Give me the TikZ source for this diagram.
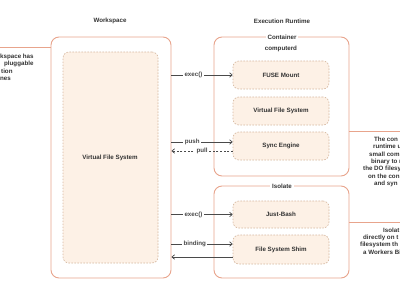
\documentclass[tikz,border=0pt]{standalone}
\usepackage{fontspec}
\setmainfont{Liberation Sans}
\usetikzlibrary{arrows.meta}
\definecolor{salmon}{HTML}{E8A48C}
\definecolor{cream}{HTML}{FDF1E6}
\definecolor{tan}{HTML}{D6B8A0}
\definecolor{conn}{HTML}{4A4A4A}
\definecolor{txt}{HTML}{333333}
\tikzset{
  outerbox/.style={draw=salmon, line width=0.9pt, fill=white, rounded corners=8pt, inner sep=0pt},
  innerbox/.style={draw=tan, dashed, dash pattern=on 1.6pt off 1.4pt, line width=0.6pt, fill=cream, rounded corners=6pt, inner sep=0pt, font=\fontsize{6.2}{7.4}\selectfont\bfseries, text=txt},
  title/.style={font=\fontsize{6.2}{7.4}\selectfont\bfseries, text=txt, inner sep=1.5pt},
  boxtitle/.style={font=\fontsize{6.2}{7.4}\selectfont\bfseries, text=txt, fill=white, inner sep=2pt},
  frag/.style={font=\fontsize{6.2}{7.4}\selectfont\bfseries, text=txt, anchor=west, inner sep=0pt},
  edgelabel/.style={font=\fontsize{6.2}{7.4}\selectfont\bfseries, text=conn, fill=white, inner sep=1.5pt},
  connline/.style={draw=conn, line width=0.7pt},
  arr/.style={-{Straight Barb[length=2.6pt,width=4.5pt]}},
  sline/.style={draw=salmon, line width=0.9pt}
}
\begin{document}
\begin{tikzpicture}[x=1pt,y=-1pt]
\useasboundingbox (0,0) rectangle (400,300);
% titles
\node[title] (tws) at (110,21) {Workspace};
\node[title] (ter) at (282,21) {Execution Runtime};
% workspace
\node[outerbox, minimum width=120pt, minimum height=241pt] (ws) at (111,157.5) {};
\node[innerbox, minimum width=95pt, minimum height=211pt] (wsvfs) at (110.5,157.5) {};
\node[title] (wsvfst) at (110,158) {Virtual File System};
% container
\node[outerbox, minimum width=135pt, minimum height=139pt] (ct) at (281.5,106.5) {};
\node[boxtitle] (ctt) at (282,37) {Container};
\node[title] (cd) at (281,49) {computerd};
\node[innerbox, minimum width=96pt, minimum height=28pt] (fuse) at (281,75) {FUSE Mount};
\node[innerbox, minimum width=96pt, minimum height=28pt] (vfs) at (281,111) {Virtual File System};
\node[innerbox, minimum width=96pt, minimum height=28pt] (sync) at (281,146) {Sync Engine};
% isolate
\node[outerbox, minimum width=135pt, minimum height=92pt] (iso) at (281.5,232) {};
\node[boxtitle] (isot) at (282,186) {Isolate};
\node[innerbox, minimum width=96pt, minimum height=27pt] (bash) at (281,214.5) {Just-Bash};
\node[innerbox, minimum width=96pt, minimum height=29pt] (shim) at (281,249.5) {File System Shim};
% connectors workspace -> runtime
\draw[connline, arr] (fuse.west -| ws.east) -- node[edgelabel, pos=0.36] (l1) {exec()} (fuse.west);
\coordinate (pushR) at ([yshift=4pt]sync.west);
\coordinate (pullR) at ([yshift=-5pt]sync.west);
\draw[connline, arr] (pushR -| ws.east) -- node[edgelabel, pos=0.34] (l2) {push} (pushR);
\draw[connline, arr, dash pattern=on 2pt off 1.6pt] (pullR) -- node[edgelabel, pos=0.5] (l3) {pull} (pullR -| ws.east);
\draw[connline, arr] (bash.west -| ws.east) -- node[edgelabel, pos=0.36] (l4) {exec()} (bash.west);
\coordinate (bindR) at ([yshift=5.5pt]shim.west);
\coordinate (retR) at ([yshift=-7.5pt]shim.west);
\draw[connline, arr] (bindR -| ws.east) -- node[edgelabel, pos=0.38] (l5) {binding} (bindR);
\draw[connline, arr] (retR) -- (retR -| ws.east);
% side connectors
\coordinate (wsL) at (0,47);
\draw[sline] (wsL) -- (wsL -| ws.west);
\coordinate (ctR) at (400,131);
\draw[sline] (ctR -| ct.east) -- (ctR);
\coordinate (isoR) at (400,222);
\draw[sline] (isoR -| iso.east) -- (isoR);
% left note fragments
\node[frag] (n1) at (0,57) {kspace has};
\node[frag] (n2) at (4,64) {pluggable};
\node[frag] (n3) at (1,71.5) {tion};
\node[frag] (n4) at (0,79) {nes};
% container note fragments
\node[frag] (c1) at (374,139) {The con};
\node[frag] (c2) at (373,146.5) {runtime u};
\node[frag] (c3) at (369,154) {small com};
\node[frag] (c4) at (371,161.5) {binary to r};
\node[frag] (c5) at (363,169) {the DO filesy};
\node[frag] (c6) at (368,176.5) {on the con};
\node[frag] (c7) at (374,184) {and syn};
% isolate note fragments
\node[frag] (i1) at (383,230) {Isolat};
\node[frag] (i2) at (363,237.5) {directly on t};
\node[frag] (i3) at (360,245) {filesystem th};
\node[frag] (i4) at (363,252.5) {a Workers Bi};
\end{tikzpicture}
\end{document}
